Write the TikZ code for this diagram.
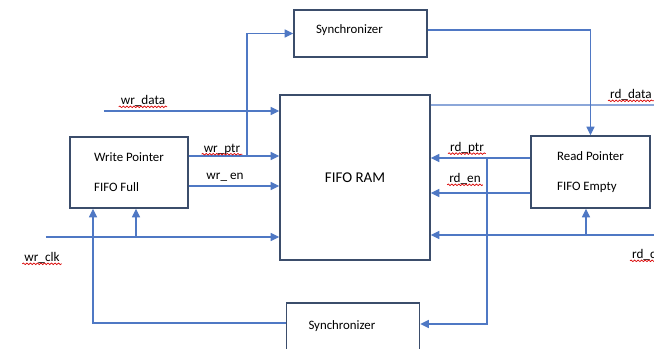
\documentclass[tikz,border=0pt]{standalone}
\usepackage{fontspec}
\setmainfont{Carlito}
\usetikzlibrary{arrows.meta,decorations.pathmorphing}

\definecolor{wireblue}{HTML}{4F78C4}
\definecolor{boxline}{HTML}{3B4D6B}

\begin{document}
\begin{tikzpicture}[
    x=0.02cm, y=-0.02cm,
    box/.style={rectangle, draw=boxline, line width=0.9pt, align=left, font=\fontsize{7.3}{17}\selectfont},
    syncbox/.style={box, text width=1.78cm, inner xsep=0.44cm, text height=5pt, text depth=5pt},
    wire/.style={draw=wireblue, line width=0.6pt},
    arrow/.style={wire, -{Triangle[length=1.7mm, width=1.6mm]}},
    sig/.style={font=\fontsize{7.5}{9}\selectfont, inner sep=1pt},
    squig/.style={draw=red!85!black, line width=0.4pt, decorate, decoration={snake, amplitude=0.45pt, segment length=2pt}}
]
\useasboundingbox (0,0) rectangle (654,349);

% blocks
\node[box, minimum width=3cm, minimum height=3.3cm, align=center, font=\fontsize{8.5}{10}\selectfont] (ram) at (355,177.5) {FIFO RAM};
\node[box, minimum width=2.36cm, minimum height=1.42cm] (wp) at (129,172.5) {Write Pointer\\FIFO Full};
\node[box, minimum width=2.38cm, minimum height=1.44cm] (rp) at (590.5,172) {Read Pointer\\FIFO Empty};
\node[syncbox, minimum height=0.94cm] (synct) at (360.5,33.5) {Synchronizer};
\node[syncbox, minimum height=1.04cm] (syncb) at (353,329) {Synchronizer};

% tap points and open ends
\coordinate (wdin) at (104,111);
\coordinate (wclkin) at (46,237);
\coordinate (wctap) at (136,237);
\coordinate (wtap) at (247,156);
\coordinate (rdout) at (654,105);
\coordinate (rclkin) at (654,235);
\coordinate (rctap) at (586,235);
\coordinate (rtap) at (487,158);
\coordinate (wptr) at ([yshift=0.33cm]wp.east);
\coordinate (wen) at ([yshift=-0.27cm]wp.east);
\coordinate (rptr) at ([yshift=0.28cm]rp.west);
\coordinate (ren) at ([yshift=-0.42cm]rp.west);
\coordinate (rdo) at ([yshift=1.45cm]ram.east);

% write side
\draw[arrow] (wdin) -- (wdin -| ram.west);
\draw[arrow] (wptr) -- (wptr -| ram.west);
\draw[arrow] (wtap) |- (synct.west);
\draw[arrow] (wen) -- (wen -| ram.west);
\draw[arrow] (wclkin) -- (wclkin -| ram.west);
\draw[arrow] (wctap) -- (wctap |- wp.south);
\draw[arrow] ([yshift=0.12cm]syncb.west) -| ([xshift=-0.72cm]wp.south);

% read side
\draw[wire] (rdo) -- (rdout);
\draw[arrow] ([yshift=0.07cm]synct.east) -| (rp.north);
\draw[arrow] (rptr) -- (rptr -| ram.east);
\draw[arrow] (ren) -- (ren -| ram.east);
\draw[arrow] (rtap) |- ([yshift=0.1cm]syncb.east);
\draw[arrow] (rclkin) -- (rclkin -| ram.east);
\draw[arrow] (rctap) -- (rctap |- rp.south);

% signal names
\node[sig] (lwrdata) at (143,101) {wr\_data};
\node[sig] (lwrptr) at (222,149) {wr\_ptr};
\node[sig] (lwren) at (225,177) {wr\_ en};
\node[sig] (lrdptr) at (467,148) {rd\_ptr};
\node[sig] (lrden) at (465,179) {rd\_en};
\node[sig] (lwrclk) at (42,258) {wr\_clk};
\node[sig, anchor=west] (lrddata) at (608,95) {rd\_data};
\node[sig, anchor=west] (lrdclk) at (630,255) {rd\_clk};

\foreach \n in {lwrdata,lwrptr,lrdptr,lrden,lwrclk,lrddata,lrdclk}
    \draw[squig] ([yshift=-1.2pt]\n.base west) -- ([yshift=-1.2pt]\n.base east);
\end{tikzpicture}
\end{document}
